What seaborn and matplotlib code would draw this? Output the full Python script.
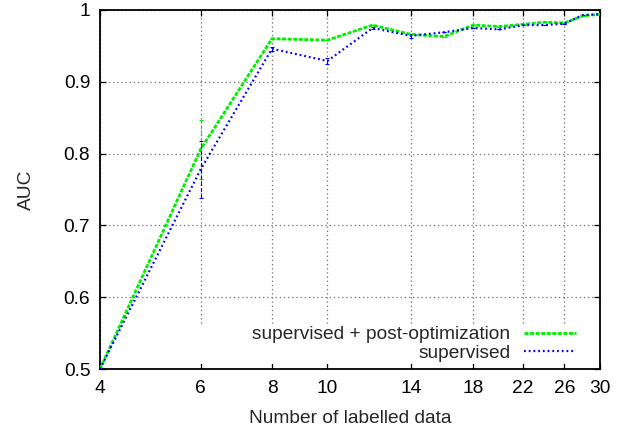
import numpy as np
import pandas as pd
import matplotlib
matplotlib.use("Agg")
import matplotlib.pyplot as plt
from matplotlib.patches import Rectangle
import seaborn as sns

# Data
n_labelled = [4, 6, 8, 10, 12, 14, 16, 18, 20, 22, 24, 26, 28, 30]
auc_post = [0.500, 0.806, 0.960, 0.958, 0.979, 0.966, 0.963, 0.979, 0.977, 0.980, 0.983, 0.982, 0.992, 0.994]
err_post = [0.0, 0.041, 0.0, 0.0, 0.0, 0.0, 0.0, 0.0, 0.0, 0.0, 0.0, 0.0, 0.0, 0.0]
auc_sup = [0.500, 0.778, 0.946, 0.929, 0.975, 0.964, 0.969, 0.975, 0.973, 0.979, 0.979, 0.981, 0.993, 0.994]
err_sup = [0.0, 0.040, 0.003, 0.004, 0.002, 0.003, 0.0, 0.0, 0.0, 0.0, 0.0, 0.0, 0.0, 0.0]
x_ticks = [4, 6, 8, 10, 14, 18, 22, 26, 30]
y_ticks = [0.5, 0.6, 0.7, 0.8, 0.9, 1.0]
y_tick_labels = ["0.5", "0.6", "0.7", "0.8", "0.9", "1"]
label_post = "supervised + post-optimization"
label_sup = "supervised"

sns.set_theme(style="white")
plt.rcParams["font.family"] = ["Liberation Sans", "DejaVu Sans"]
plt.rcParams["lines.scale_dashes"] = False

df = pd.DataFrame({
    "n": n_labelled * 2,
    "auc": auc_post + auc_sup,
    "method": [label_post] * len(n_labelled) + [label_sup] * len(n_labelled),
})

FS = 13.8
fig = plt.figure(figsize=(6.26, 4.29), dpi=100)
ax = fig.add_axes([100 / 626, 1 - 369 / 429, 500 / 626, 359 / 429])

green = "#00ee00"
blue = "#0000ff"

for y, e, c in ((auc_post, err_post, green), (auc_sup, err_sup, blue)):
    eb = ax.errorbar(n_labelled, y, yerr=e, fmt="none", ecolor=c,
                     elinewidth=0.8, capsize=1.6, capthick=0.8, zorder=2)
    for lc in eb[2]:
        lc.set_linestyle((0, (3, 1.5)))

sns.lineplot(data=df[df.method == label_post], x="n", y="auc", ax=ax,
             color=green, linewidth=2.0, label=label_post, zorder=3)
sns.lineplot(data=df[df.method == label_sup], x="n", y="auc", ax=ax,
             color=blue, linewidth=1.6, label=label_sup, zorder=3)
lines = ax.get_lines()
lines[-2].set_linestyle((0, (2.9, 1.1)))
lines[-1].set_linestyle((0, (1.3, 2.1)))

ax.set_xscale("log")
ax.set_xlim(4, 30)
ax.set_ylim(0.5, 1.0)
ax.set_xticks(x_ticks)
ax.set_xticklabels([str(t) for t in x_ticks])
ax.xaxis.set_minor_locator(matplotlib.ticker.NullLocator())
ax.set_yticks(y_ticks)
ax.set_yticklabels(y_tick_labels)

ax.grid(True, which="major", color="#777777", linestyle=(0, (1, 2)), linewidth=0.9)
ax.set_axisbelow(True)

for sp in ax.spines.values():
    sp.set_visible(True)
    sp.set_color("black")
    sp.set_linewidth(1.3)

ax.tick_params(direction="in", length=4, width=0.9, top=True, right=True,
               bottom=True, left=True, labelsize=FS, colors="black")
ax.tick_params(axis="x", pad=8)
ax.tick_params(axis="y", pad=7)

ax.set_xlabel("Number of labelled data", fontsize=FS, labelpad=9)
ax.set_ylabel("AUC", fontsize=FS, labelpad=21)

# key background (hides grid behind the key, as in gnuplot)
ax.add_patch(Rectangle((0.14, 0.014), 0.86, 0.109, transform=ax.transAxes,
                       facecolor="white", edgecolor="none", zorder=1))

leg = ax.legend(loc="lower right", bbox_to_anchor=(0.952, 0.02), frameon=False,
                markerfirst=False, fontsize=FS, handlelength=3.7 * 12 / FS * 0.85,
                handletextpad=0.7, labelspacing=0.05, borderpad=0,
                borderaxespad=0)

fig.savefig("out.png", dpi=100)
